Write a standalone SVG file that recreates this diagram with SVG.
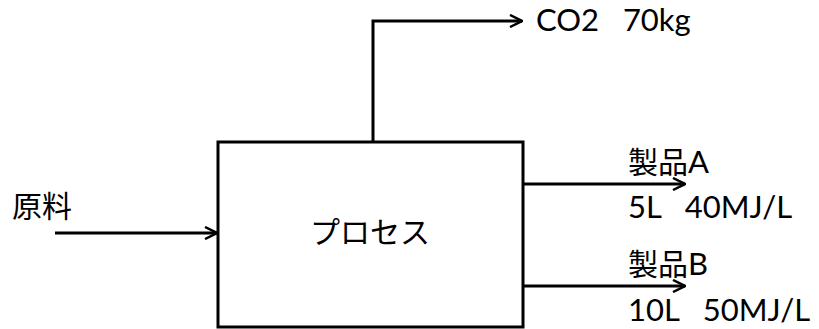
<svg xmlns="http://www.w3.org/2000/svg" width="819" height="329" viewBox="0 0 819 329">
<style>
text{font-family:"Lato","Noto Sans CJK JP",sans-serif;font-size:31px;fill:#000;white-space:pre}
.cjk{font-size:30px}
.ln{fill:none;stroke:#000;stroke-width:3}
</style>
<defs>
<marker id="ah" viewBox="0 0 14 14" refX="13" refY="7" markerWidth="14" markerHeight="14" markerUnits="userSpaceOnUse" orient="auto">
<path d="M1,1 L13,7 L1,13" fill="none" stroke="#000" stroke-width="2.5"/>
</marker>
</defs>
<g id="connectors">
<path class="ln" d="M55,233 H217" marker-end="url(#ah)"/>
<path class="ln" d="M373,142 V21 H522" marker-end="url(#ah)"/>
<path class="ln" d="M523,184 H685" marker-end="url(#ah)"/>
<path class="ln" d="M523,286 H685" marker-end="url(#ah)"/>
</g>
<g id="process">
<rect class="ln" x="218" y="142" width="305" height="185" fill="#fff"/>
<text class="cjk" x="370" y="243" text-anchor="middle">プロセス</text>
</g>
<g id="input"><text class="cjk" x="12" y="217">原料</text></g>
<g id="co2"><text x="536" y="31">CO2   70kg</text></g>
<g id="productA"><text x="628" y="173"><tspan class="cjk">製品</tspan>A</text><text x="628" y="218">5L   40MJ/L</text></g>
<g id="productB"><text x="628" y="275"><tspan class="cjk">製品</tspan>B</text><text x="628" y="321">10L   50MJ/L</text></g>
</svg>
